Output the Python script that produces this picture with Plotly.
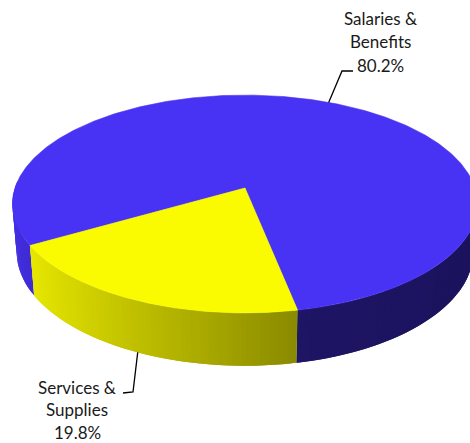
import numpy as np
import plotly.graph_objects as go

# ---- data ----
slice_names = ["Salaries & Benefits", "Services & Supplies"]
label_lines = [["Salaries &", "Benefits"], ["Services &", "Supplies"]]
shares = [80.2, 19.8]

# ---- styling ----
W, H = 470, 443
top_rgb = [(72, 50, 244), (250, 250, 0)]
# wall lighting per slice: factor = base - slope*u + lit*max(0, -u), u = cos(angle)
wall_light = [(0.42, 0.04, 0.47), (0.62, 0.35, 0.0)]
start_deg = 210.0          # first slice starts here (math angle), slices run clockwise
font_family = "Lato"
font_size = 17
text_color = "#1a1a1a"

# label placement: block centre x, first line y, line spacing, leader elbow, leader end
label_layout = [
    dict(cx=380, y0=18, dy=23.5, elbow=(342, 71), end=(353, 71)),
    dict(cx=77, y0=387, dy=22.5, elbow=(133, 392), end=(123, 393)),
]

# ---- 3D projection of the disc ----
CX, CY = 245.0, 188.0
K = 1387.0                 # focal scale
D = 6.03                   # camera distance
PHI = np.radians(27.6)     # viewing elevation
SN, CS = np.sin(PHI), np.cos(PHI)
THICK = 0.237              # disc thickness (radius = 1)
STEP = 1.0                 # wall shading step, degrees


def project(ang_deg, r=1.0, z=0.0):
    a = np.radians(np.asarray(ang_deg, dtype=float))
    u = r * np.cos(a)
    v = r * np.sin(a)
    ys = v * SN + z * CS
    depth = D + v * CS - z * SN
    return CX + K * u / depth, CY - K * ys / depth


def rgb(c, f=1.0):
    return "rgb({},{},{})".format(*[int(round(max(0, min(255, x * f)))) for x in c])


def wall_factor(i, ang):
    u = np.cos(np.radians(ang))
    base, slope, lit = wall_light[i]
    return base - slope * u + lit * max(0.0, -u)


def wall_poly(b0, b1):
    angs = np.linspace(b0, b1, 3)
    xt, yt = project(angs)
    xb, yb = project(angs[::-1], z=-THICK)
    return list(xt) + list(xb) + [xt[0]], list(yt) + list(yb) + [yt[0]]


total = float(sum(shares))
spans = []
cur = start_deg
for s in shares:
    sweep = 360.0 * s / total
    spans.append((cur, cur - sweep))
    cur -= sweep

fig = go.Figure()

# outer wall: front-facing steps; each step overlaps into the next one,
# which is drawn after it, so no seams appear between steps
for i, (a0, a1) in enumerate(spans):
    n = max(2, int(round(abs(a0 - a1) / STEP)))
    angs = np.linspace(a0, a1, n + 1)
    step = angs[1] - angs[0]
    for j in range(n):
        b0, b1 = angs[j], angs[j + 1]
        if np.sin(np.radians(0.5 * (b0 + b1))) > 0.05:
            continue
        b1_ext = b1 + step if j < n - 1 else b1
        xs, ys = wall_poly(b0, b1_ext)
        col = rgb(top_rgb[i], wall_factor(i, 0.5 * (b0 + b1)))
        fig.add_trace(go.Scatter(
            x=xs, y=ys, mode="lines", fill="toself", fillcolor=col,
            line=dict(width=0), hoverinfo="skip", showlegend=False))

# top faces
for i, (a0, a1) in enumerate(spans):
    n = max(4, int(abs(a0 - a1) / 0.5))
    angs = np.linspace(a0, a1, n + 1)
    xa, ya = project(angs)
    xs = [CX] + list(xa) + [CX]
    ys = [CY] + list(ya) + [CY]
    col = rgb(top_rgb[i])
    fig.add_trace(go.Scatter(
        x=xs, y=ys, mode="lines", fill="toself", fillcolor=col,
        line=dict(color=col, width=0.6), name=slice_names[i],
        hoverinfo="name", showlegend=False))

# data labels with leader lines
annotations = []
for i, (a0, a1) in enumerate(spans):
    mid = 0.5 * (a0 + a1)
    z = -THICK if np.sin(np.radians(mid)) < 0 else 0.0
    ax, ay = project([mid], z=z)
    lay = label_layout[i]
    fig.add_trace(go.Scatter(
        x=[float(ax[0]), lay["elbow"][0], lay["end"][0]],
        y=[float(ay[0]), lay["elbow"][1], lay["end"][1]],
        mode="lines", line=dict(color="black", width=1.3),
        hoverinfo="skip", showlegend=False))
    lines = label_lines[i] + [f"{shares[i]:.1f}%"]
    for k, t in enumerate(lines):
        annotations.append(dict(
            x=lay["cx"], y=lay["y0"] + k * lay["dy"], text=t,
            xref="x", yref="y", showarrow=False,
            xanchor="center", yanchor="middle",
            font=dict(family=font_family, size=font_size, color=text_color)))

fig.update_layout(
    width=W, height=H,
    margin=dict(l=0, r=0, t=0, b=0),
    paper_bgcolor="white", plot_bgcolor="white",
    xaxis=dict(range=[0, W], visible=False, fixedrange=True),
    yaxis=dict(range=[H, 0], visible=False, fixedrange=True),
    annotations=annotations,
)

fig.write_html("out.html")
